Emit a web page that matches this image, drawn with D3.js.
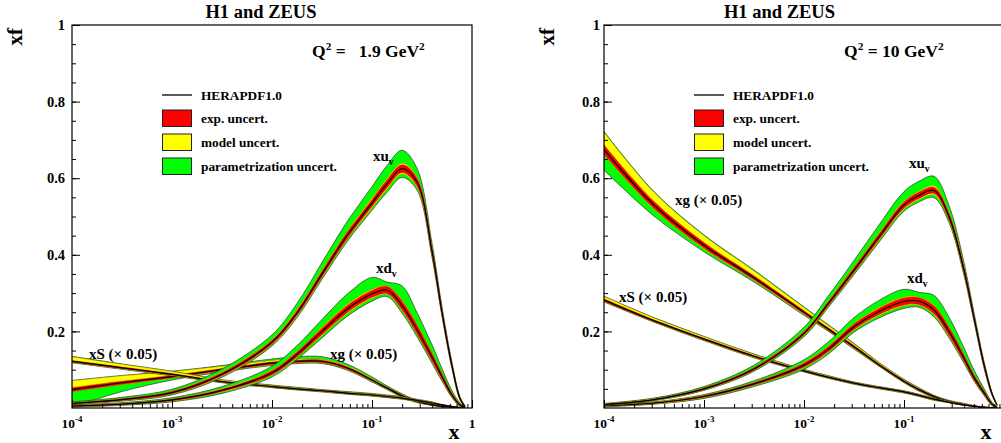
<!DOCTYPE html>
<html>
<head>
<meta charset="utf-8">
<script src="https://cdn.jsdelivr.net/npm/d3@7"></script>
<style>
  body { margin: 0; background: #fff; }
  svg { display: block; }
  text { font-family: "Liberation Serif", "Times New Roman", serif; font-weight: bold; fill: #000; }
</style>
</head>
<body>
<svg id="chart" width="1001" height="443"></svg>
<script>
// common x grid, log10(x)
const logX = [-4, -3.5, -3, -2.5, -2, -1.75, -1.5, -1.25, -1, -0.85, -0.7, -0.55, -0.4, -0.3, -0.2, -0.12, -0.07]

// rows: [central, exp, modelLo, modelHi, parLo, parHi]   (Q2 = 1.9)
const xuvLow = [
  [0.012, 0.001, 0.001, 0.001, 0.001, 0.002],
  [0.022, 0.002, 0.001, 0.001, 0.001, 0.003],
  [0.04, 0.003, 0.001, 0.001, 0.002, 0.005],
  [0.088, 0.004, 0.002, 0.002, 0.002, 0.008],
  [0.172, 0.005, 0.002, 0.002, 0.003, 0.012],
  [0.248, 0.006, 0.003, 0.003, 0.003, 0.016],
  [0.35, 0.007, 0.003, 0.003, 0.004, 0.02],
  [0.45, 0.008, 0.003, 0.003, 0.005, 0.025],
  [0.535, 0.009, 0.004, 0.004, 0.006, 0.03],
  [0.585, 0.01, 0.004, 0.004, 0.008, 0.034],
  [0.625, 0.01, 0.004, 0.004, 0.009, 0.034],
  [0.59, 0.01, 0.004, 0.004, 0.007, 0.022],
  [0.41, 0.008, 0.003, 0.003, 0.005, 0.01],
  [0.25, 0.006, 0.002, 0.002, 0.003, 0.006],
  [0.11, 0.004, 0.002, 0.002, 0.002, 0.003],
  [0.025, 0.002, 0.001, 0.001, 0.001, 0.001],
  [0.004, 0.001, 0, 0, 0, 0]
]
const xdvLow = [
  [0.005, 0.001, 0.001, 0.001, 0.001, 0.001],
  [0.01, 0.001, 0.001, 0.001, 0.001, 0.002],
  [0.021, 0.002, 0.001, 0.001, 0.002, 0.003],
  [0.046, 0.003, 0.002, 0.002, 0.003, 0.005],
  [0.092, 0.005, 0.002, 0.002, 0.004, 0.01],
  [0.14, 0.006, 0.002, 0.002, 0.005, 0.015],
  [0.2, 0.008, 0.003, 0.003, 0.006, 0.02],
  [0.258, 0.009, 0.003, 0.003, 0.007, 0.027],
  [0.298, 0.009, 0.003, 0.003, 0.007, 0.031],
  [0.308, 0.009, 0.002, 0.002, 0.006, 0.01],
  [0.268, 0.011, 0.003, 0.003, 0.006, 0.037],
  [0.205, 0.011, 0.003, 0.003, 0.005, 0.03],
  [0.133, 0.009, 0.003, 0.003, 0.004, 0.02],
  [0.082, 0.007, 0.002, 0.002, 0.003, 0.012],
  [0.034, 0.004, 0.001, 0.001, 0.002, 0.006],
  [0.008, 0.002, 0.001, 0.001, 0.001, 0.002],
  [0.002, 0.001, 0, 0, 0, 0]
]
const xgLow = [
  [0.048, 0.005, 0.001, 0.018, 0.04, 0.001],
  [0.066, 0.004, 0.001, 0.014, 0.018, 0.001],
  [0.082, 0.003, 0.001, 0.01, 0.005, 0.001],
  [0.1, 0.003, 0.001, 0.006, 0.002, 0.002],
  [0.117, 0.003, 0.001, 0.004, 0.002, 0.004],
  [0.122, 0.003, 0.001, 0.003, 0.002, 0.006],
  [0.122, 0.003, 0.001, 0.002, 0.002, 0.007],
  [0.105, 0.003, 0.001, 0.002, 0.002, 0.005],
  [0.073, 0.002, 0.001, 0.002, 0.002, 0.004],
  [0.052, 0.002, 0.001, 0.001, 0.001, 0.003],
  [0.032, 0.002, 0.001, 0.001, 0.001, 0.002],
  [0.017, 0.001, 0.001, 0.001, 0.001, 0.001],
  [0.008, 0.001, 0, 0.001, 0, 0.001],
  [0.004, 0.001, 0, 0, 0, 0],
  [0.002, 0, 0, 0, 0, 0],
  [0.001, 0, 0, 0, 0, 0],
  [0, 0, 0, 0, 0, 0]
]
const xSLow = [
  [0.122, 0.002, 0.001, 0.01, 0.001, 0.001],
  [0.105, 0.002, 0.001, 0.007, 0.001, 0.001],
  [0.088, 0.002, 0.001, 0.005, 0.001, 0.001],
  [0.069, 0.001, 0.001, 0.003, 0.001, 0.001],
  [0.056, 0.001, 0.001, 0.002, 0.001, 0.001],
  [0.05, 0.001, 0.001, 0.002, 0.001, 0.001],
  [0.045, 0.001, 0.001, 0.001, 0.001, 0.001],
  [0.039, 0.001, 0.001, 0.001, 0.001, 0.002],
  [0.034, 0.001, 0.001, 0.001, 0.001, 0.002],
  [0.03, 0.001, 0.001, 0.001, 0.001, 0.002],
  [0.026, 0.001, 0.001, 0.001, 0.001, 0.002],
  [0.02, 0.001, 0.001, 0.001, 0.001, 0.001],
  [0.013, 0.001, 0, 0.001, 0, 0.001],
  [0.008, 0.001, 0, 0, 0, 0],
  [0.004, 0, 0, 0, 0, 0],
  [0.001, 0, 0, 0, 0, 0],
  [0, 0, 0, 0, 0, 0]
]

// Q2 = 10
const xuvHigh = [
  [0.009, 0.001, 0.001, 0.001, 0.001, 0.001],
  [0.022, 0.001, 0.001, 0.001, 0.001, 0.002],
  [0.05, 0.002, 0.001, 0.001, 0.001, 0.003],
  [0.102, 0.003, 0.001, 0.001, 0.002, 0.006],
  [0.195, 0.004, 0.002, 0.002, 0.003, 0.01],
  [0.275, 0.005, 0.002, 0.002, 0.003, 0.013],
  [0.36, 0.006, 0.002, 0.002, 0.004, 0.017],
  [0.447, 0.007, 0.003, 0.003, 0.004, 0.021],
  [0.53, 0.008, 0.003, 0.003, 0.005, 0.024],
  [0.555, 0.008, 0.003, 0.003, 0.006, 0.026],
  [0.568, 0.008, 0.004, 0.004, 0.007, 0.025],
  [0.5, 0.008, 0.003, 0.003, 0.005, 0.018],
  [0.36, 0.007, 0.003, 0.003, 0.004, 0.01],
  [0.236, 0.005, 0.002, 0.002, 0.003, 0.006],
  [0.113, 0.004, 0.002, 0.002, 0.002, 0.003],
  [0.037, 0.002, 0.001, 0.001, 0.001, 0.001],
  [0.008, 0.001, 0, 0, 0, 0]
]
const xdvHigh = [
  [0.006, 0.001, 0.001, 0.001, 0.001, 0.001],
  [0.013, 0.001, 0.001, 0.001, 0.001, 0.001],
  [0.03, 0.002, 0.001, 0.001, 0.002, 0.002],
  [0.063, 0.003, 0.001, 0.001, 0.003, 0.004],
  [0.112, 0.005, 0.002, 0.002, 0.004, 0.007],
  [0.155, 0.006, 0.002, 0.002, 0.005, 0.011],
  [0.212, 0.007, 0.002, 0.002, 0.005, 0.015],
  [0.252, 0.008, 0.003, 0.003, 0.006, 0.018],
  [0.278, 0.009, 0.003, 0.003, 0.006, 0.02],
  [0.279, 0.009, 0.002, 0.002, 0.005, 0.012],
  [0.256, 0.01, 0.003, 0.003, 0.005, 0.025],
  [0.2, 0.01, 0.003, 0.003, 0.004, 0.024],
  [0.13, 0.008, 0.002, 0.002, 0.003, 0.017],
  [0.08, 0.006, 0.002, 0.002, 0.002, 0.011],
  [0.04, 0.004, 0.001, 0.001, 0.002, 0.006],
  [0.01, 0.002, 0.001, 0.001, 0.001, 0.002],
  [0.002, 0.001, 0, 0, 0, 0]
]
const xgHigh = [
  [0.675, 0.012, 0.002, 0.033, 0.04, 0.002],
  [0.53, 0.009, 0.002, 0.024, 0.018, 0.002],
  [0.425, 0.007, 0.002, 0.018, 0.008, 0.002],
  [0.34, 0.005, 0.002, 0.013, 0.004, 0.002],
  [0.25, 0.004, 0.002, 0.008, 0.002, 0.002],
  [0.205, 0.003, 0.001, 0.006, 0.002, 0.002],
  [0.16, 0.003, 0.001, 0.004, 0.002, 0.002],
  [0.113, 0.002, 0.001, 0.003, 0.001, 0.001],
  [0.07, 0.002, 0.001, 0.002, 0.001, 0.001],
  [0.048, 0.002, 0.001, 0.002, 0.001, 0.001],
  [0.03, 0.001, 0.001, 0.001, 0.001, 0.001],
  [0.017, 0.001, 0.001, 0.001, 0.001, 0.001],
  [0.009, 0.001, 0, 0.001, 0, 0.001],
  [0.005, 0.001, 0, 0, 0, 0],
  [0.002, 0, 0, 0, 0, 0],
  [0.001, 0, 0, 0, 0, 0],
  [0, 0, 0, 0, 0, 0]
]
const xSHigh = [
  [0.282, 0.003, 0.001, 0.006, 0.001, 0.001],
  [0.228, 0.002, 0.001, 0.005, 0.001, 0.001],
  [0.18, 0.002, 0.001, 0.004, 0.001, 0.001],
  [0.135, 0.002, 0.001, 0.003, 0.001, 0.001],
  [0.097, 0.001, 0.001, 0.002, 0.001, 0.001],
  [0.08, 0.001, 0.001, 0.002, 0.001, 0.001],
  [0.065, 0.001, 0.001, 0.001, 0.001, 0.001],
  [0.053, 0.001, 0.001, 0.001, 0.001, 0.001],
  [0.042, 0.001, 0.001, 0.001, 0.001, 0.001],
  [0.033, 0.001, 0.001, 0.001, 0.001, 0.001],
  [0.023, 0.001, 0.001, 0.001, 0.001, 0.001],
  [0.015, 0.001, 0, 0.001, 0, 0.001],
  [0.008, 0.001, 0, 0, 0, 0],
  [0.005, 0, 0, 0, 0, 0],
  [0.002, 0, 0, 0, 0, 0],
  [0.001, 0, 0, 0, 0, 0],
  [0, 0, 0, 0, 0, 0]
]

const yTicks = [0.2, 0.4, 0.6, 0.8, 1]
const xMajor = [1e-4, 1e-3, 1e-2, 1e-1, 1]
const xMajorExp = [-4, -3, -2, -1, null]
const legendItems = ['HERAPDF1.0', 'exp. uncert.', 'model uncert.', 'parametrization uncert.']
const legendColors = [null, '#ff0000', '#ffff00', '#00ff00']

const panels = [
  {
    x0: 72, titleX: 261, q2: ['Q', '2', ' =   1.9 GeV', '2'], labelPad: 7,
    curves: [xgLow, xSLow, xdvLow, xuvLow],
    labels: [
      { parts: [['xu'], ['v', 'sub']], lx: -0.99, y: 0.645 },
      { parts: [['xd'], ['v', 'sub']], lx: -0.96, y: 0.352 },
      { parts: [['xS (× 0.05)']], lx: -3.83, y: 0.128 },
      { parts: [['xg (× 0.05)']], lx: -1.42, y: 0.128 }
    ]
  },
  {
    x0: 604, titleX: 779.5, q2: ['Q', '2', ' = 10 GeV', '2'], labelPad: 4,
    curves: [xgHigh, xSHigh, xdvHigh, xuvHigh],
    labels: [
      { parts: [['xu'], ['v', 'sub']], lx: -0.95, y: 0.627 },
      { parts: [['xd'], ['v', 'sub']], lx: -0.97, y: 0.326 },
      { parts: [['xS (× 0.05)']], lx: -3.85, y: 0.277 },
      { parts: [['xg (× 0.05)']], lx: -3.29, y: 0.53 }
    ]
  }
]

const width = 1001
const frameTop = 25
const frameBottom = 408
const frameW = 400

const svg = d3.select('#chart')

function rich(sel, parts, size) {
  let shift = 0
  parts.forEach(([t, kind]) => {
    const ts = sel.append('tspan').text(t)
    let target = 0
    if (kind === 'sup') target = -size * 0.42
    if (kind === 'sub') target = size * 0.25
    ts.attr('dy', target - shift)
    if (kind) ts.attr('font-size', size * 0.65)
    shift = target
  })
}

function bands(rows) {
  return rows.map(([c, e, mLo, mHi, pLo, pHi], i) => ({
    x: Math.pow(10, logX[i]),
    c: c,
    rLo: Math.max(0, c - e),
    rHi: c + e,
    yLo: Math.max(0, c - e - mLo),
    yHi: c + e + mHi,
    gLo: Math.max(0, c - e - mLo - pLo),
    gHi: c + e + mHi + pHi
  }))
}

const curve = d3.curveCatmullRom.alpha(0.5)

panels.forEach((p, pi) => {
  const x = d3.scaleLog().domain([1e-4, 1]).range([p.x0, p.x0 + frameW])
  const y = d3.scaleLinear().domain([0, 1]).range([frameBottom, frameTop])

  const g = svg.append('g')

  g.append('clipPath')
    .attr('id', 'clip' + pi)
    .append('rect')
    .attr('x', p.x0)
    .attr('y', frameTop)
    .attr('width', frameW)
    .attr('height', frameBottom - frameTop)

  const plot = g.append('g').attr('clip-path', `url(#clip${pi})`)

  const area = (lo, hi) =>
    d3.area()
      .x(d => x(d.x))
      .y0(d => y(d[lo]))
      .y1(d => y(d[hi]))
      .curve(curve)

  const line = d3.line()
    .x(d => x(d.x))
    .y(d => y(d.c))
    .curve(curve)

  p.curves.forEach(rows => {
    const d = bands(rows)
    plot.append('path').attr('d', area('gLo', 'gHi')(d))
      .attr('fill', '#00ff00').attr('stroke', '#333').attr('stroke-width', 0.7)
    plot.append('path').attr('d', area('yLo', 'yHi')(d))
      .attr('fill', '#ffff00').attr('stroke', '#8a7a00').attr('stroke-width', 0.4)
    plot.append('path').attr('d', area('rLo', 'rHi')(d))
      .attr('fill', '#ff0000').attr('stroke', '#a00000').attr('stroke-width', 0.4)
    plot.append('path').attr('d', line(d))
      .attr('fill', 'none').attr('stroke', '#000').attr('stroke-width', 1.2)
  })

  // frame
  g.append('rect')
    .attr('x', p.x0)
    .attr('y', frameTop)
    .attr('width', frameW)
    .attr('height', frameBottom - frameTop)
    .attr('fill', 'none')
    .attr('stroke', '#000')
    .attr('stroke-width', 1.2)

  // x ticks
  const xMinor = []
  for (let dec = -4; dec < 0; dec++) {
    for (let m = 2; m <= 9; m++) xMinor.push(m * Math.pow(10, dec))
  }
  g.append('g')
    .attr('transform', `translate(0,${frameBottom})`)
    .call(d3.axisBottom(x).tickValues(xMinor).tickSize(-4).tickFormat(''))
    .call(a => a.select('.domain').remove())
  g.append('g')
    .attr('transform', `translate(0,${frameBottom})`)
    .call(d3.axisBottom(x).tickValues(xMajor).tickSize(-8).tickFormat(''))
    .call(a => a.select('.domain').remove())

  xMajor.forEach((v, i) => {
    if (x(v) > width - 4) return
    const t = g.append('text')
      .attr('x', x(v))
      .attr('y', 428)
      .attr('text-anchor', 'middle')
      .attr('font-size', 13.5)
    if (xMajorExp[i] === null) t.text('1')
    else rich(t, [['10'], [String(xMajorExp[i]), 'sup']], 13.5)
  })

  // y ticks
  g.append('g')
    .attr('transform', `translate(${p.x0},0)`)
    .call(d3.axisLeft(y).tickValues(d3.range(1, 20).map(k => k * 0.05)).tickSize(-4).tickFormat(''))
    .call(a => a.select('.domain').remove())
  g.append('g')
    .attr('transform', `translate(${p.x0},0)`)
    .call(d3.axisLeft(y).tickValues(yTicks).tickSize(-8).tickPadding(p.labelPad)
      .tickFormat(d => (d === 1 ? '1' : d.toFixed(1))))
    .call(a => a.select('.domain').remove())
    .call(a => a.selectAll('text')
      .attr('font-size', 14.5)
      .attr('font-family', '"Liberation Serif", serif')
      .attr('font-weight', 'bold'))

  g.selectAll('.tick line').attr('stroke', '#000')

  // titles
  g.append('text')
    .attr('x', p.titleX)
    .attr('y', 18)
    .attr('text-anchor', 'middle')
    .attr('font-size', 18.5)
    .text('H1 and ZEUS')

  g.append('text')
    .attr('transform', `translate(${p.x0 - 50},${frameTop + 3}) rotate(-90)`)
    .attr('text-anchor', 'end')
    .attr('font-size', 21)
    .text('xf')

  g.append('text')
    .attr('x', p.x0 + 382)
    .attr('y', 439)
    .attr('text-anchor', 'middle')
    .attr('font-size', 22)
    .text('x')

  const q = g.append('text')
    .attr('x', p.x0 + 240)
    .attr('y', 57)
    .attr('font-size', 17.5)
    .attr('xml:space', 'preserve')
    .style('white-space', 'pre')
  rich(q, [[p.q2[0]], [p.q2[1], 'sup'], [p.q2[2]], [p.q2[3], 'sup']], 17.5)

  // curve labels
  p.labels.forEach(l => {
    const t = g.append('text')
      .attr('x', x(Math.pow(10, l.lx)))
      .attr('y', y(l.y))
      .attr('font-size', 15)
    rich(t, l.parts, 15)
  })

  // legend
  const legend = g.append('g').attr('transform', `translate(${p.x0 + 90},95)`)
  const rowY = [0, 23, 47, 71]
  legendItems.forEach((name, i) => {
    const row = legend.append('g').attr('transform', `translate(0,${rowY[i]})`)
    if (legendColors[i] === null) {
      row.append('line')
        .attr('x1', 0).attr('x2', 30)
        .attr('stroke', '#000').attr('stroke-width', 1.3)
    } else {
      row.append('rect')
        .attr('x', 0.5).attr('y', -8)
        .attr('width', 29).attr('height', 16.5)
        .attr('fill', legendColors[i])
        .attr('stroke', '#222').attr('stroke-width', 1)
    }
    row.append('text')
      .attr('x', 39)
      .attr('y', 4.5)
      .attr('font-size', 13.3)
      .text(name)
  })
})
</script>
</body>
</html>
